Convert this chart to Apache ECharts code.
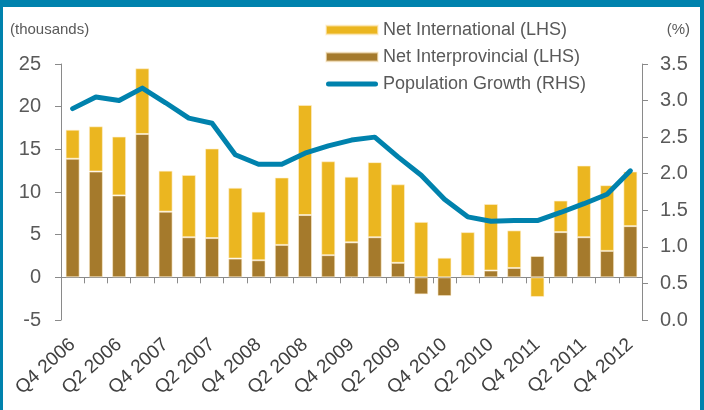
<!DOCTYPE html>
<html>
<head>
<meta charset="utf-8">
<script src="https://cdn.jsdelivr.net/npm/echarts@6/dist/echarts.min.js"></script>
<style>
  html, body { margin: 0; padding: 0; background: #fff; }
  #chart { width: 704px; height: 410px; }
</style>
</head>
<body>
<div id="chart"></div>
<script>
// quarters Q4 2006 .. Q4 2012
var categories = ['Q4 2006', 'Q1 2007', 'Q2 2007', 'Q3 2007', 'Q4 2007', 'Q1 2008', 'Q2 2008',
    'Q3 2008', 'Q4 2008', 'Q1 2009', 'Q2 2009', 'Q3 2009', 'Q4 2009', 'Q1 2010', 'Q2 2010',
    'Q3 2010', 'Q4 2010', 'Q1 2011', 'Q2 2011', 'Q3 2011', 'Q4 2011', 'Q1 2012', 'Q2 2012',
    'Q3 2012', 'Q4 2012'];
// labels as printed on the original chart (every second quarter)
var tickLabels = ['Q4 2006', 'Q2 2006', 'Q4 2007', 'Q2 2007', 'Q4 2008', 'Q2 2008', 'Q4 2009',
    'Q2 2009', 'Q4 2010', 'Q2 2010', 'Q4 2011', 'Q2 2011', 'Q4 2012'];

var netInterprovincial = [13.9, 12.4, 9.6, 16.8, 7.7, 4.7, 4.6, 2.2, 2.0, 3.8, 7.3, 2.6, 4.1,
    4.7, 1.7, -2.0, -2.2, 0.15, 0.8, 1.1, 2.5, 5.3, 4.7, 3.1, 6.0];
var netInternational = [3.4, 5.3, 6.9, 7.7, 4.8, 7.3, 10.5, 8.3, 5.7, 7.9, 12.9, 11.0, 7.7,
    8.8, 9.2, 6.5, 2.3, 5.15, 7.8, 4.4, -2.3, 3.7, 8.4, 7.7, 6.4];
var popGrowth = [2.89, 3.05, 3.00, 3.17, 2.97, 2.76, 2.69, 2.26, 2.13, 2.13, 2.28, 2.38, 2.46,
    2.50, 2.23, 1.98, 1.65, 1.41, 1.35, 1.36, 1.36, 1.47, 1.59, 1.72, 2.04];

var blue = '#0082AD';
var axisGrey = '#8A8A8A';
var textGrey = '#595959';
var fontFam = 'Liberation Sans, Arial, sans-serif';
// thick rounded line used as legend icon for the growth line
var lineIcon = 'path://M2.5,0 H49.5 A2.5,2.5 0 0 1 49.5,5 H2.5 A2.5,2.5 0 0 1 2.5,0 Z';

var chart = echarts.init(document.getElementById('chart'));
var option = {
    animation: false,
    textStyle: { fontFamily: fontFam },
    graphic: [
        { type: 'rect', shape: { x: 0, y: 0, width: 704, height: 7 }, style: { fill: blue } },
        { type: 'rect', shape: { x: 0, y: 0, width: 3, height: 410 }, style: { fill: blue } },
        { type: 'rect', shape: { x: 700, y: 0, width: 4, height: 410 }, style: { fill: blue } },
        { type: 'text', left: 10, top: 22, style: { text: '(thousands)', fill: textGrey, font: '15px ' + fontFam } },
        { type: 'text', right: 14, top: 22, style: { text: '(%)', fill: textGrey, font: '15px ' + fontFam } }
    ],
    legend: {
        orient: 'vertical',
        left: 325,
        top: 21,
        padding: 0,
        itemWidth: 52,
        itemHeight: 9,
        itemGap: 9,
        symbolKeepAspect: true,
        data: [
            { name: 'Net International (LHS)', icon: 'rect' },
            { name: 'Net Interprovincial (LHS)', icon: 'rect' },
            { name: 'Population Growth (RHS)', icon: lineIcon, itemStyle: { color: blue } }
        ],
        textStyle: { color: textGrey, fontSize: 18, lineHeight: 18, fontFamily: fontFam }
    },
    grid: { left: 61, right: 62, top: 64, bottom: 90, containLabel: false },
    xAxis: [{
        type: 'category',
        data: categories,
        axisLine: { onZero: true, lineStyle: { color: axisGrey, width: 1 } },
        axisTick: { show: true, interval: 0, length: 6, lineStyle: { color: axisGrey } },
        axisLabel: { show: false }
    }, {
        type: 'category',
        data: categories,
        position: 'bottom',
        axisLine: { show: false, onZero: false },
        axisTick: { show: false },
        axisLabel: {
            interval: 1,
            rotate: 42,
            margin: 22,
            fontSize: 19,
            color: '#404040',
            formatter: function (v, i) { return tickLabels[i / 2] || ''; }
        }
    }],
    yAxis: [{
        type: 'value',
        min: -5, max: 25, interval: 5,
        axisLine: { show: true, lineStyle: { color: axisGrey } },
        axisTick: { show: true, length: 6, lineStyle: { color: axisGrey } },
        splitLine: { show: false },
        axisLabel: { fontSize: 20, color: textGrey, margin: 20 }
    }, {
        type: 'value',
        min: 0, max: 3.5, interval: 0.5,
        position: 'right',
        axisLine: { show: true, lineStyle: { color: axisGrey } },
        axisTick: { show: true, length: 6, lineStyle: { color: axisGrey } },
        splitLine: { show: false },
        axisLabel: {
            fontSize: 20, color: textGrey, margin: 18,
            formatter: function (v) { return v.toFixed(1); }
        }
    }],
    series: [{
        name: 'Net Interprovincial (LHS)',
        type: 'bar',
        stack: 'flows',
        barWidth: 14,
        data: netInterprovincial,
        itemStyle: { color: '#A57A2C', borderColor: 'rgba(255,240,210,0.6)', borderWidth: 1 }
    }, {
        name: 'Net International (LHS)',
        type: 'bar',
        stack: 'flows',
        barWidth: 14,
        data: netInternational,
        itemStyle: { color: '#EBB620', borderColor: 'rgba(255,240,210,0.6)', borderWidth: 1 }
    }, {
        name: 'Population Growth (RHS)',
        type: 'line',
        yAxisIndex: 1,
        data: popGrowth,
        symbol: 'none',
        z: 5,
        lineStyle: { color: blue, width: 5, cap: 'round', join: 'round' },
        itemStyle: { color: blue }
    }]
};
chart.setOption(option);
</script>
</body>
</html>
